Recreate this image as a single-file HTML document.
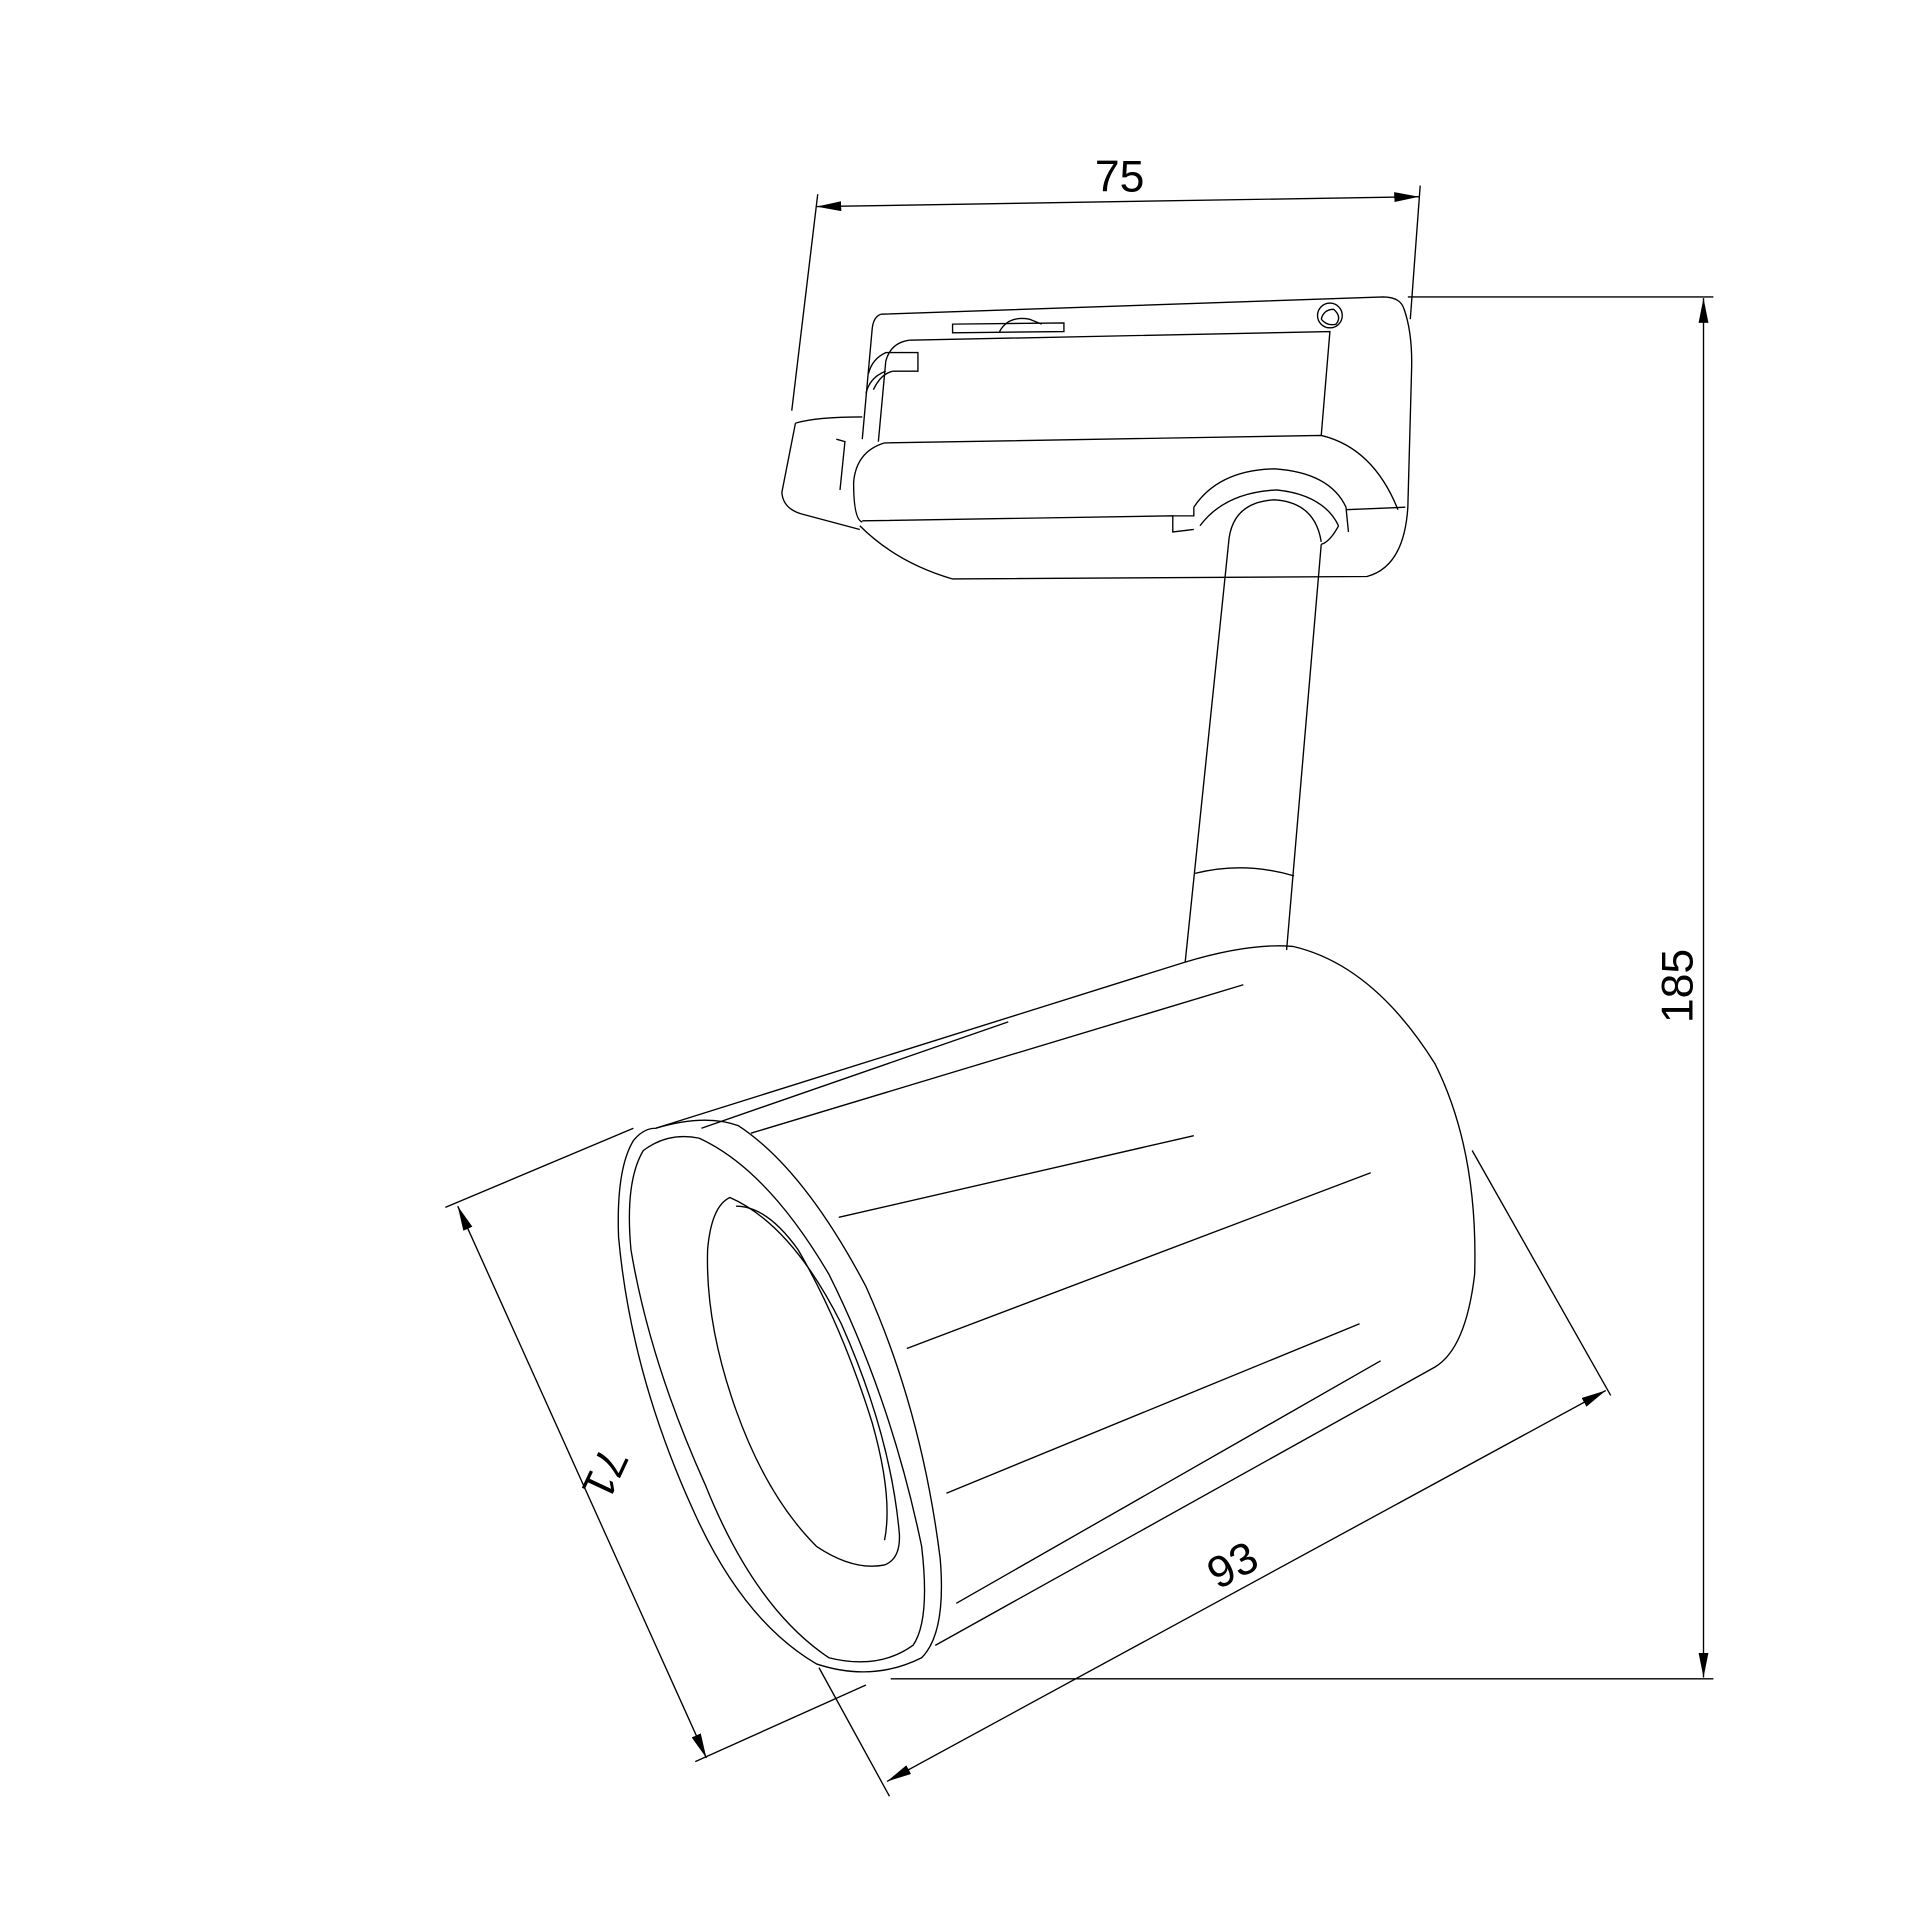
<!DOCTYPE html>
<html><head><style>html,body{margin:0;padding:0;background:#fff}svg{display:block}</style></head>
<body>
<svg width="1920" height="1920" viewBox="0 0 1552 1552" xmlns="http://www.w3.org/2000/svg">
<defs><marker id="a" viewBox="0 0 20 8" refX="20" refY="4" markerWidth="20" markerHeight="8" orient="auto-start-reverse" markerUnits="userSpaceOnUse"><path d="M0,0 L20,4 L0,8 Z" fill="#000"/></marker></defs>
<g fill="none" stroke="#000" stroke-width="1.1">
<!-- dimension 75 -->
<line x1="660" y1="167" x2="1147" y2="159" marker-start="url(#a)" marker-end="url(#a)"/>
<line x1="661" y1="157" x2="640" y2="332"/>
<line x1="1148" y1="150" x2="1140" y2="258"/>
<!-- 185 -->
<line x1="1377" y1="241" x2="1377" y2="1356" marker-start="url(#a)" marker-end="url(#a)"/>
<line x1="1138" y1="240" x2="1385" y2="240"/>
<line x1="720" y1="1357" x2="1385" y2="1357"/>
<!-- 71 -->
<line x1="370" y1="975" x2="571" y2="1421" marker-start="url(#a)" marker-end="url(#a)"/>
<line x1="360" y1="976" x2="512" y2="912"/>
<line x1="562" y1="1424" x2="700" y2="1362"/>
<!-- 93 -->
<line x1="717" y1="1440" x2="1298" y2="1124" marker-start="url(#a)" marker-end="url(#a)"/>
<line x1="1190" y1="930" x2="1302" y2="1128"/>
<line x1="662" y1="1348" x2="719" y2="1452"/>
<!-- adapter -->
<path d="M712,254 L1118,240 Q1132,240 1135,250 Q1142,270 1141,300 L1138,410 Q1135,458 1105,466 L770,468 Q725,455 695,425"/>
<path d="M712,254 Q706,256 705,266 L697,355"/>
<path d="M735,275 L1075,268 L1068,352"/>
<path d="M735,275 Q720,277 716,292 L710,357"/>
<path d="M702,302 Q705,290 716,285 L742,285 L742,300 L722,300 Q712,302 706,315"/>
<path d="M700,318 Q703,305 716,300"/>
<path d="M715,358 L1068,352 Q1110,362 1130,412"/>
<path d="M715,358 Q692,365 690,390 Q690,420 697,422"/>
<path d="M697,421 L948,417 L948,430 L965,428"/>
<path d="M1088,412 L1136,410"/>
<path d="M965,410 L965,417 L948,417"/>
<path d="M965,410 Q985,380 1030,379 Q1075,382 1088,410 L1090,430"/>
<path d="M970,425 Q990,398 1032,396 Q1070,400 1082,425"/>
<path d="M993,440 Q995,406 1030,404 Q1063,406 1068,438"/>
<path d="M1082,425 Q1075,438 1068,440"/>
<path d="M643,342 Q660,337 697,337"/>
<path d="M643,342 L632,398 Q633,412 650,416 L695,428"/>
<path d="M676,355 L683,357 L679,396"/>
<path d="M770,262 L860,261 L860,268 L770,269 Z"/>
<path d="M808,268 Q815,255 832,258 L842,262"/>
<circle cx="1075" cy="255" r="10"/>
<path d="M1068,258 Q1070,250 1078,250 Q1085,256 1080,262 Q1073,264 1068,258"/>
<!-- stem -->
<line x1="993" y1="440" x2="958" y2="778"/>
<line x1="1068" y1="440" x2="1040" y2="768"/>
<path d="M966,706 Q1005,696 1046,708"/>
<!-- head -->
<path d="M530,912 L957,778 Q1010,762 1045,765 Q1110,780 1160,860 Q1195,930 1192,1030 Q1185,1090 1160,1105 L756,1330"/>
<path d="M530,912 Q570,900 597,910 Q650,945 700,1040 Q745,1140 760,1260 Q765,1320 745,1340 Q705,1360 660,1345 Q600,1310 560,1220 Q510,1110 500,1000 Q498,945 512,922 Q520,912 530,912 Z"/>
<path d="M520,930 Q540,915 565,920 Q620,945 670,1030 Q720,1130 745,1250 Q752,1310 738,1330 Q710,1350 670,1340 Q610,1300 570,1200 Q525,1100 510,1010 Q505,955 520,930 Z"/>
<path d="M590,968 Q640,990 680,1070 Q720,1160 727,1240 Q728,1260 715,1265 Q690,1270 660,1250 Q620,1210 595,1140 Q570,1070 572,1010 Q575,975 590,968 Z"/>
<path d="M595,975 Q620,975 645,1010 Q680,1070 705,1150 Q722,1210 715,1245"/>
<path d="M607,916 L1005,796"/>
<path d="M567,912 L815,826"/>
<path d="M678,984 L965,918"/>
<path d="M733,1090 L1108,948"/>
<path d="M765,1207 L1099,1070"/>
<path d="M773,1296 L1116,1100"/>
</g>
<g font-family="Liberation Sans, sans-serif" font-size="36" fill="#000">
<text x="905" y="155" text-anchor="middle">75</text>
<text transform="translate(1368,797) rotate(-90)" text-anchor="middle">185</text>
<text transform="translate(478,1186) rotate(115)" text-anchor="middle">71</text>
<text transform="translate(1002,1276) rotate(-28)" text-anchor="middle">93</text>
</g>
</svg>
</body></html>
